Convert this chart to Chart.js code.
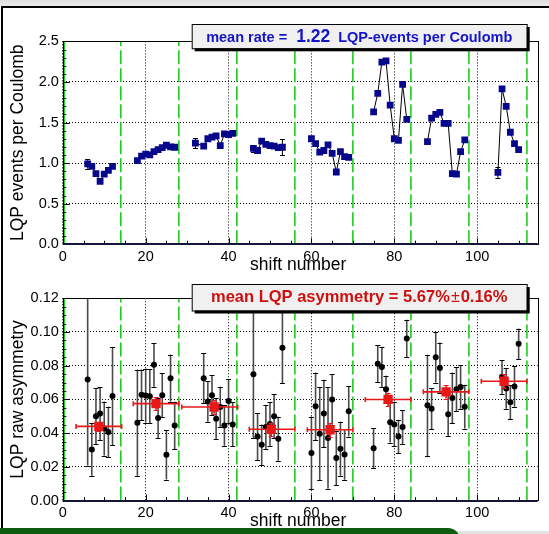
<!DOCTYPE html>
<html>
<head>
<meta charset="utf-8">
<script src="https://cdn.jsdelivr.net/npm/chart.js@4.4.1/dist/chart.umd.min.js"></script>
<style>
  body { margin: 0; background: #fff; }
  #page { position: relative; width: 549px; height: 534px; overflow: hidden; background: #fff; }
  #topband { position: absolute; left: 0; top: 0; width: 549px; height: 6px; background: linear-gradient(#dedede, #ececec); }
  #frame { position: absolute; left: 1px; top: 6px; width: 600px; height: 520px; border-left: 2px solid #000; border-top: 2px solid #000; }
  #graybar { position: absolute; left: 0; top: 531px; width: 549px; height: 3px; background: #e2e2e2; }
  #greenbar { position: absolute; left: 0; top: 528px; width: 460px; height: 12px; background: #0d5c0d; border-top-right-radius: 12px; }
  canvas { position: absolute; left: 0; }
  #rateChart { top: 0; }
  #asymChart { top: 272px; }
</style>
</head>
<body>
<div id="page">
  <div id="topband"></div>
  <div id="frame"></div>
  <div id="graybar"></div>
  <div id="greenbar"></div>
  <canvas id="rateChart" width="549" height="272"></canvas>
  <canvas id="asymChart" width="549" height="262"></canvas>
</div>
<script>
// LQP rate per shift (top panel)
const rateShift = [6, 7, 8, 9, 10, 11, 12,
    18, 19, 20, 21, 22, 23, 24, 25, 26, 27,
    32, 34, 35, 36, 37, 38, 39, 40, 41,
    46, 47, 48, 49, 50, 51, 52, 53,
    60, 61, 62, 63, 64, 65, 66, 67, 68, 69,
    75, 76, 77, 78, 79, 80, 81, 82, 83,
    88, 89, 90, 91, 92, 93, 94, 95, 96, 97,
    105, 106, 107, 108, 109, 110];
const rateValue = [0.99, 0.96, 0.87, 0.775, 0.865, 0.91, 0.96,
    1.03, 1.085, 1.11, 1.10, 1.14, 1.167, 1.19, 1.22, 1.20, 1.195,
    1.245, 1.21, 1.30, 1.32, 1.335, 1.215, 1.36, 1.35, 1.365,
    1.18, 1.155, 1.27, 1.23, 1.215, 1.21, 1.19, 1.195,
    1.30, 1.24, 1.135, 1.155, 1.225, 1.12, 0.89, 1.14, 1.08, 1.07,
    1.63, 1.86, 2.245, 2.26, 1.715, 1.30, 1.28, 1.97, 1.54,
    1.265, 1.555, 1.60, 1.625, 1.49, 1.49, 0.87, 0.865, 1.14, 1.285,
    0.885, 1.915, 1.70, 1.38, 1.24, 1.167];
const rateError = [0.06, 0.02, 0.02, 0.02, 0.02, 0.02, 0.02,
    0.02, 0.02, 0.02, 0.02, 0.02, 0.02, 0.02, 0.02, 0.02, 0.02,
    0.06, 0.02, 0.02, 0.02, 0.02, 0.02, 0.02, 0.02, 0.02,
    0.04, 0.03, 0.02, 0.02, 0.02, 0.02, 0.02, 0.10,
    0.02, 0.02, 0.02, 0.02, 0.02, 0.02, 0.02, 0.02, 0.02, 0.02,
    0.02, 0.02, 0.02, 0.02, 0.02, 0.02, 0.02, 0.02, 0.02,
    0.02, 0.02, 0.02, 0.02, 0.02, 0.02, 0.02, 0.02, 0.02, 0.02,
    0.07, 0.03, 0.02, 0.02, 0.02, 0.02];

// raw asymmetry per shift (bottom panel)
const asymShift = [6, 7, 8, 9, 10, 11, 12,
    18, 19, 20, 21, 22, 23, 24, 25, 26, 27,
    34, 35, 36, 37, 38, 39, 40, 41,
    46, 47, 48, 49, 50, 51, 52, 53,
    60, 61, 62, 63, 64, 65, 66, 67, 68, 69,
    75, 76, 77, 78, 79, 80, 81, 82, 83,
    88, 89, 90, 91, 93, 94, 95, 96, 97,
    106, 107, 108, 109, 110];
const asymValue = [0.0718, 0.0303, 0.050, 0.0516, 0.0427, 0.0407, 0.062,
    0.0462, 0.0627, 0.0623, 0.0619, 0.0805, 0.049, 0.0625, 0.0272, 0.0726, 0.0446,
    0.0726, 0.0587, 0.0625, 0.0486, 0.0555, 0.0446, 0.059, 0.0452,
    0.075, 0.038, 0.0331, 0.0436, 0.0455, 0.050, 0.0367, 0.0906,
    0.0282, 0.0559, 0.0397, 0.0516, 0.0371, 0.060, 0.0252, 0.0308, 0.0274, 0.053,
    0.0311, 0.0811, 0.0793, 0.066, 0.0464, 0.0452, 0.038, 0.0436, 0.0962,
    0.0565, 0.0545, 0.085, 0.0787, 0.0512, 0.0609, 0.066, 0.0674, 0.0557,
    0.0734, 0.0665, 0.0583, 0.0676, 0.093];
const asymError = [0.051, 0.0155, 0.0166, 0.0157, 0.016, 0.015, 0.029,
    0.0315, 0.015, 0.016, 0.016, 0.013, 0.012, 0.013, 0.0147, 0.014, 0.014,
    0.015, 0.012, 0.012, 0.012, 0.012, 0.012, 0.013, 0.013,
    0.038, 0.014, 0.012, 0.013, 0.013, 0.013, 0.013, 0.021,
    0.0216, 0.02, 0.0276, 0.02, 0.03, 0.015, 0.016, 0.016, 0.015, 0.015,
    0.012, 0.011, 0.012, 0.008, 0.012, 0.013, 0.010, 0.010, 0.011,
    0.03, 0.012, 0.015, 0.015, 0.013, 0.015, 0.013, 0.013, 0.013,
    0.01, 0.012, 0.01, 0.012, 0.009];

// block means (red squares)
const meanShift = [8.7, 22.5, 36.5, 50.3, 64.5, 78.5, 92.5, 106.5];
const meanShiftLo = [3.2, 17, 28.7, 45, 59, 73, 87, 101];
const meanShiftHi = [14.2, 28, 42.2, 56, 70, 84, 98, 112];
const meanAsym = [0.044, 0.0575, 0.0555, 0.0423, 0.042, 0.060, 0.0645, 0.0708];
const meanAsymErr = [0.0027, 0.004, 0.004, 0.004, 0.004, 0.004, 0.004, 0.004];

const boundaryShift = [14, 28, 42, 56, 70, 84, 98, 112];
const shiftTicks = [0, 20, 40, 60, 80, 100];
const rateTicks = [0, 0.5, 1.0, 1.5, 2.0, 2.5];
const asymTicks = [0, 0.02, 0.04, 0.06, 0.08, 0.10, 0.12];

const meanRateText = '1.22';
const meanAsymText = '5.67%';
const meanAsymErrText = '0.16%';

const FONT = '"Liberation Sans", Arial, Helvetica, sans-serif';
const NAVY = '#07078c';
const GREEN = '#1fcc1f';
const RED = '#e81818';

function drawErrors(chart, ds) {
    const {ctx, chartArea: a, scales: {x, y}} = chart;
    ctx.save();
    ctx.beginPath();
    ctx.rect(a.left, a.top, a.right - a.left, a.bottom - a.top);
    ctx.clip();
    ds.data.forEach((p, i) => {
        const px = x.getPixelForValue(p.x);
        const py = y.getPixelForValue(p.y);
        const e = ds.errY[i];
        const top = y.getPixelForValue(p.y + e);
        const bot = y.getPixelForValue(p.y - e);
        ctx.strokeStyle = ds.errColor;
        ctx.lineWidth = ds.errWidth;
        ctx.beginPath();
        ctx.moveTo(px, bot); ctx.lineTo(px, top);
        ctx.stroke();
        ctx.strokeStyle = ds.capColor;
        ctx.lineWidth = 1;
        ctx.beginPath();
        ctx.moveTo(px - 2.5, Math.round(top) + 0.5); ctx.lineTo(px + 2.5, Math.round(top) + 0.5);
        ctx.moveTo(px - 2.5, Math.round(bot) + 0.5); ctx.lineTo(px + 2.5, Math.round(bot) + 0.5);
        ctx.stroke();
        if (ds.errLo) {
            const l = x.getPixelForValue(ds.errLo[i]);
            const r = x.getPixelForValue(ds.errHi[i]);
            ctx.strokeStyle = ds.errColor;
            ctx.lineWidth = ds.errWidth;
            ctx.beginPath();
            ctx.moveTo(l, py); ctx.lineTo(r, py);
            ctx.moveTo(l, py - 2.5); ctx.lineTo(l, py + 2.5);
            ctx.moveTo(r, py - 2.5); ctx.lineTo(r, py + 2.5);
            ctx.stroke();
        }
    });
    ctx.restore();
}

function drawPieces(ctx, pieces, cx, baseline, color) {
    let total = 0;
    pieces.forEach(p => { ctx.font = p.font; p.w = ctx.measureText(p.text).width; total += p.w + (p.gap || 0); });
    let xx = cx - total / 2;
    ctx.fillStyle = color;
    ctx.textBaseline = 'alphabetic';
    ctx.textAlign = 'left';
    pieces.forEach(p => { ctx.font = p.font; ctx.fillText(p.text, xx, baseline); xx += p.w + (p.gap || 0); });
}

const rootStyle = {
    id: 'rootStyle',
    beforeDatasetsDraw(chart, args, opt) {
        const {ctx, chartArea: a, scales: {x}} = chart;
        ctx.save();
        ctx.strokeStyle = GREEN;
        ctx.lineWidth = 1.6;
        const p0 = x.getPixelForValue(0) + 1.5;
        ctx.beginPath(); ctx.moveTo(p0, a.bottom); ctx.lineTo(p0, a.top); ctx.stroke();
        ctx.setLineDash([14, 4]);
        boundaryShift.forEach(s => {
            const px = x.getPixelForValue(s);
            ctx.beginPath(); ctx.moveTo(px, a.bottom); ctx.lineTo(px, a.top); ctx.stroke();
        });
        ctx.restore();
    },
    beforeDatasetDraw(chart, args) {
        const ds = chart.data.datasets[args.index];
        if (ds.errY) drawErrors(chart, ds);
    },
    afterDraw(chart, args, opt) {
        const {ctx, chartArea: a, scales: {x, y}} = chart;
        ctx.save();
        // inner ticks
        ctx.strokeStyle = '#000';
        ctx.lineWidth = 1;
        ctx.beginPath();
        for (let i = 0; i * opt.minorX <= x.max + 1e-9; i++) {
            const px = Math.round(x.getPixelForValue(i * opt.minorX)) + 0.5;
            const len = i % opt.majorX === 0 ? 6 : 3.5;
            ctx.moveTo(px, a.bottom); ctx.lineTo(px, a.bottom - len);
        }
        for (let i = 0; i * opt.minorY <= y.max + 1e-9; i++) {
            const py = Math.round(y.getPixelForValue(i * opt.minorY)) + 0.5;
            const len = i % opt.majorY === 0 ? 7 : 3.5;
            ctx.moveTo(a.left, py); ctx.lineTo(a.left + len, py);
        }
        ctx.stroke();
        // frame
        ctx.strokeRect(Math.round(a.left) + 0.5, Math.round(a.top) + 0.5,
            Math.round(a.right - a.left), Math.round(a.bottom - a.top));
        ctx.strokeStyle = '#15153a';
        ctx.lineWidth = 2;
        ctx.beginPath();
        ctx.moveTo(a.left, Math.round(a.bottom)); ctx.lineTo(a.right, Math.round(a.bottom));
        ctx.stroke();
        // axis titles
        ctx.fillStyle = '#000';
        ctx.font = '17.5px ' + FONT;
        ctx.textAlign = 'center';
        ctx.textBaseline = 'alphabetic';
        ctx.fillText(opt.xTitle, (a.left + a.right) / 2 - 2, a.bottom + 25.5);
        ctx.save();
        ctx.translate(23, (a.top + a.bottom) / 2);
        ctx.rotate(-Math.PI / 2);
        ctx.fillText(opt.yTitle, 0, 0);
        ctx.restore();
        // stat box
        const b = opt.box;
        ctx.fillStyle = '#000';
        ctx.fillRect(b.x + 3, b.y + 3, b.w, b.h);
        ctx.fillStyle = '#f0f0f0';
        ctx.fillRect(b.x, b.y, b.w, b.h);
        ctx.strokeStyle = '#000';
        ctx.lineWidth = 1;
        ctx.strokeRect(b.x + 0.5, b.y + 0.5, b.w, b.h);
        drawPieces(ctx, opt.pieces, b.x + b.w / 2, b.y + b.base, opt.textColor);
        ctx.restore();
    }
};

function axisOptions(ticks, fmt, minV, maxV, fit) {
    return {
        type: 'linear',
        min: minV,
        max: maxV,
        afterBuildTicks: s => { s.ticks = ticks.map(v => ({value: v})); },
        afterFit: fit,
        grid: {color: '#000', lineWidth: 1, drawTicks: false},
        border: {display: false, dash: [1, 2]},
        ticks: {
            color: '#000',
            font: {family: FONT, size: 14.5},
            padding: 4,
            maxRotation: 0,
            callback: fmt
        }
    };
}

Chart.defaults.font.family = FONT;

// top panel: one connected graph per block of 14 shifts
const rateDatasets = [];
rateShift.forEach((s, i) => {
    const g = Math.floor(s / 14);
    if (!rateDatasets[g]) {
        rateDatasets[g] = {
            data: [], errY: [], errColor: '#000', capColor: '#000', errWidth: 1,
            showLine: true, borderColor: '#000', borderWidth: 1,
            pointStyle: 'rect', pointRadius: 4.8, pointBorderWidth: 0,
            pointBackgroundColor: NAVY
        };
    }
    rateDatasets[g].data.push({x: s, y: rateValue[i]});
    rateDatasets[g].errY.push(rateError[i]);
});

new Chart(document.getElementById('rateChart'), {
    type: 'scatter',
    data: {datasets: rateDatasets.filter(Boolean)},
    options: {
        responsive: false,
        animation: false,
        events: [],
        layout: {padding: {left: 0, top: 41.4, right: 11.3, bottom: 0}},
        scales: {
            x: axisOptions(shiftTicks, v => String(v), 0, 114.6, s => { s.height = 27.8; }),
            y: axisOptions(rateTicks, v => v.toFixed(1), 0, 2.5, s => { s.width = 62.8; })
        },
        plugins: {
            legend: {display: false},
            tooltip: {enabled: false},
            rootStyle: {
                xTitle: 'shift number', yTitle: 'LQP events per Coulomb',
                minorX: 5, majorX: 4, minorY: 0.1, majorY: 5,
                box: {x: 191.7, y: 24, w: 335, h: 24.3, base: 17.7},
                textColor: '#1414c8',
                pieces: [
                    {text: 'mean rate =', font: 'bold 14.5px ' + FONT, gap: 9},
                    {text: meanRateText, font: 'bold 17.5px ' + FONT, gap: 8},
                    {text: 'LQP-events per Coulomb', font: 'bold 14.5px ' + FONT}
                ]
            }
        }
    },
    plugins: [rootStyle]
});

new Chart(document.getElementById('asymChart'), {
    type: 'scatter',
    data: {
        datasets: [
            {
                data: meanShift.map((s, i) => ({x: s, y: meanAsym[i]})),
                errY: meanAsymErr, errLo: meanShiftLo, errHi: meanShiftHi,
                errColor: RED, capColor: RED, errWidth: 1.6,
                pointStyle: 'rect', pointRadius: 6.6, pointBorderWidth: 0,
                pointBackgroundColor: RED
            },
            {
                data: asymShift.map((s, i) => ({x: s, y: asymValue[i]})),
                errY: asymError, errColor: '#4a4a4a', capColor: '#000', errWidth: 1.6,
                pointStyle: 'circle', pointRadius: 3, pointBorderWidth: 0,
                pointBackgroundColor: '#000'
            }
        ]
    },
    options: {
        responsive: false,
        animation: false,
        events: [],
        layout: {padding: {left: 0, top: 26.25, right: 11.3, bottom: 0}},
        scales: {
            x: axisOptions(shiftTicks, v => String(v), 0, 114.6, s => { s.height = 33.4; }),
            y: axisOptions(asymTicks, v => v.toFixed(2), 0, 0.12, s => { s.width = 62.8; })
        },
        plugins: {
            legend: {display: false},
            tooltip: {enabled: false},
            rootStyle: {
                xTitle: 'shift number', yTitle: 'LQP raw asymmetry',
                minorX: 5, majorX: 4, minorY: 0.005, majorY: 4,
                box: {x: 191.7, y: 12, w: 335, h: 26.5, base: 17.7},
                textColor: '#cc1010',
                pieces: [
                    {text: 'mean LQP asymmetry = ' + meanAsymText, font: 'bold 16.5px ' + FONT, gap: 1},
                    {text: '\u00b1', font: '16px ' + FONT, gap: 1},
                    {text: meanAsymErrText, font: 'bold 16.5px ' + FONT}
                ]
            }
        }
    },
    plugins: [rootStyle]
});
</script>
</body>
</html>
